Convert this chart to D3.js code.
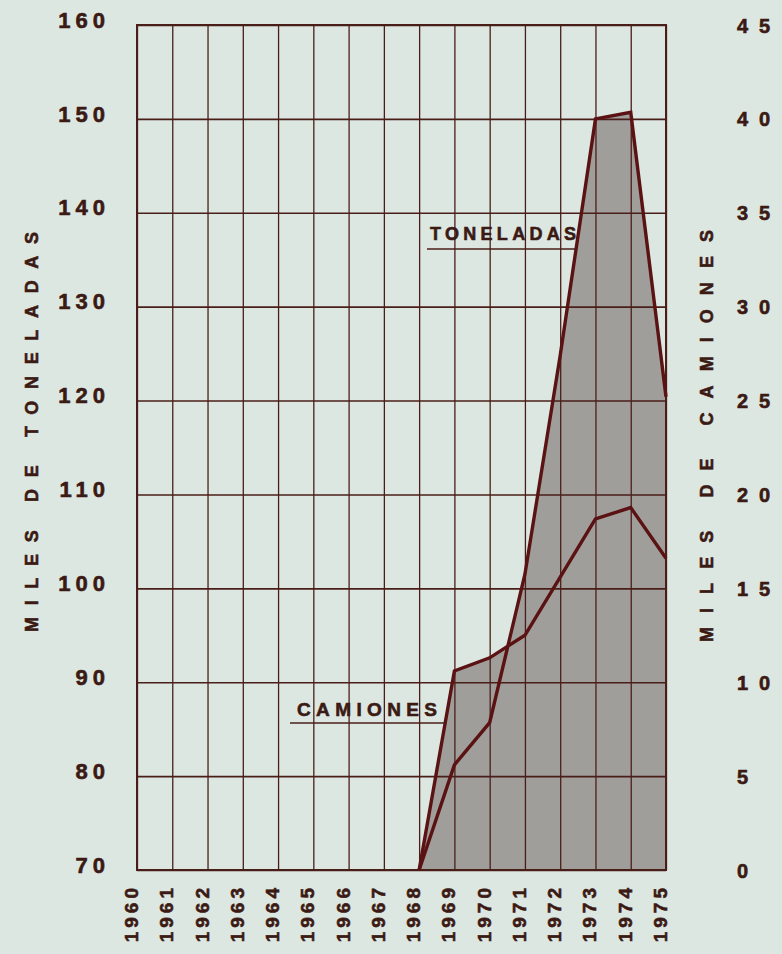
<!DOCTYPE html>
<html>
<head>
<meta charset="utf-8">
<script src="https://cdn.jsdelivr.net/npm/d3@7"></script>
<style>
  html, body { margin: 0; padding: 0; background: #dde7e2; }
  svg { display: block; }
  text { font-family: "Liberation Sans", Arial, sans-serif; font-weight: bold; fill: #3b1a14; stroke: #3b1a14; stroke-width: 0.6px; }
</style>
</head>
<body>
<script>
// ---- data ----
const yearLabels = ["1960","1961","1962","1963","1964","1965","1966","1967","1968","1969","1970","1971","1972","1973","1974","1975"];
const dataYears = [1968, 1969, 1970, 1971, 1972, 1973, 1974, 1975];
const toneladas = [70, 81.2, 85.7, 101.5, 124.8, 150.0, 150.7, 120.4];   // miles de toneladas (eje izq.)
const camiones  = [0, 10.6, 11.3, 12.5, 15.6, 18.7, 19.3, 16.6];        // miles de camiones (eje der.)
const leftTicks  = [70, 80, 90, 100, 110, 120, 130, 140, 150, 160];
const rightTicks = [0, 5, 10, 15, 20, 25, 30, 35, 40, 45];

const W = 782, H = 954;
const m = { left: 137, right: 666, top: 25, bottom: 870 };

const svg = d3.select("body").append("svg").attr("width", W).attr("height", H);
svg.append("rect").attr("width", W).attr("height", H).attr("fill", "#dde7e2");

const x  = d3.scaleLinear().domain([1960, 1975]).range([m.left, m.right]);
const yL = d3.scaleLinear().domain([70, 160]).range([m.bottom, m.top]);
const yR = d3.scaleLinear().domain([0, 45]).range([m.bottom, m.top]);

const FILL = "#a09e9b", LINE = "#5a1212", GRID = "#4a1e18", TXT = "#3b1a14";

// ---- shaded areas (union of areas below both lines) ----
const areaT = d3.area().x((d, i) => x(dataYears[i])).y0(m.bottom).y1(d => yL(d));
const areaC = d3.area().x((d, i) => x(dataYears[i])).y0(m.bottom).y1(d => yR(d));
svg.append("path").datum(toneladas).attr("d", areaT).attr("fill", FILL);
svg.append("path").datum(camiones).attr("d", areaC).attr("fill", FILL);

// ---- grid ----
const gx = svg.append("g").attr("transform", `translate(0,${m.bottom})`)
  .call(d3.axisBottom(x).tickValues(yearLabels.map(Number)).tickSize(-(m.bottom - m.top)).tickFormat(""));
gx.selectAll("line").attr("stroke", GRID).attr("stroke-width", 1.3);
gx.select(".domain").remove();

const gy = svg.append("g").attr("transform", `translate(${m.left},0)`)
  .call(d3.axisLeft(yL).tickValues(leftTicks).tickSize(-(m.right - m.left)).tickFormat(""));
gy.selectAll("line").attr("stroke", GRID).attr("stroke-width", 1.6);
gy.select(".domain").remove();

svg.append("rect").attr("x", m.left).attr("y", m.top)
  .attr("width", m.right - m.left).attr("height", m.bottom - m.top)
  .attr("fill", "none").attr("stroke", GRID).attr("stroke-width", 2);

// ---- lines ----
const lineT = d3.line().x((d, i) => x(dataYears[i])).y(d => yL(d));
const lineC = d3.line().x((d, i) => x(dataYears[i])).y(d => yR(d));
svg.append("path").datum(toneladas).attr("d", lineT).attr("fill", "none")
  .attr("stroke", LINE).attr("stroke-width", 3.4).attr("stroke-linejoin", "miter");
svg.append("path").datum(camiones).attr("d", lineC).attr("fill", "none")
  .attr("stroke", LINE).attr("stroke-width", 3.4).attr("stroke-linejoin", "miter");

function styleText(sel, size, ls) {
  sel.attr("font-size", size).attr("letter-spacing", ls + "px")
    .attr("font-family", '"Liberation Sans", Arial, sans-serif').attr("font-weight", "bold")
    .attr("fill", TXT);
}

// ---- left axis labels ----
const la = svg.append("g").attr("transform", "translate(110,0)")
  .call(d3.axisLeft(yL).tickValues(leftTicks).tickSize(0).tickPadding(0));
la.select(".domain").remove();
styleText(la.selectAll("text"), 22, 5);
la.selectAll("text").attr("dy", "0.1em").attr("text-anchor", "end");

// ---- right axis labels ----
const ra = svg.append("g").attr("transform", "translate(737,0)")
  .call(d3.axisRight(yR).tickValues(rightTicks).tickSize(0).tickPadding(0));
ra.select(".domain").remove();
styleText(ra.selectAll("text"), 20, 11);
ra.selectAll("text").attr("dy", "0.35em").attr("text-anchor", "start");

// ---- year labels (rotated) ----
svg.append("g").selectAll("text").data(yearLabels).join("text")
  .attr("transform", d => `translate(${x(+d) + 1},${884}) rotate(-90)`)
  .attr("text-anchor", "end")
  .attr("font-size", 19).attr("letter-spacing", "4px")
  .text(d => d);

// ---- axis titles ----
svg.append("text").attr("transform", "translate(38,432) rotate(-90)")
  .attr("text-anchor", "middle").attr("font-size", 18)
  .attr("textLength", 400).attr("lengthAdjust", "spacing")
  .text("MILES  DE  TONELADAS");
svg.append("text").attr("transform", "translate(713,436) rotate(-90)")
  .attr("text-anchor", "middle").attr("font-size", 18)
  .attr("textLength", 412).attr("lengthAdjust", "spacing")
  .text("MILES  DE  CAMIONES");

// ---- series labels ----
svg.append("text").attr("x", 430).attr("y", 240).attr("font-size", 18)
  .attr("textLength", 146).attr("lengthAdjust", "spacing").text("TONELADAS");
svg.append("line").attr("x1", 427).attr("x2", 575).attr("y1", 249).attr("y2", 249)
  .attr("stroke", GRID).attr("stroke-width", 1.3);
svg.append("text").attr("x", 297).attr("y", 716).attr("font-size", 19)
  .attr("textLength", 140).attr("lengthAdjust", "spacing").text("CAMIONES");
svg.append("line").attr("x1", 290).attr("x2", 446).attr("y1", 723).attr("y2", 723)
  .attr("stroke", GRID).attr("stroke-width", 1.3);
</script>
</body>
</html>
